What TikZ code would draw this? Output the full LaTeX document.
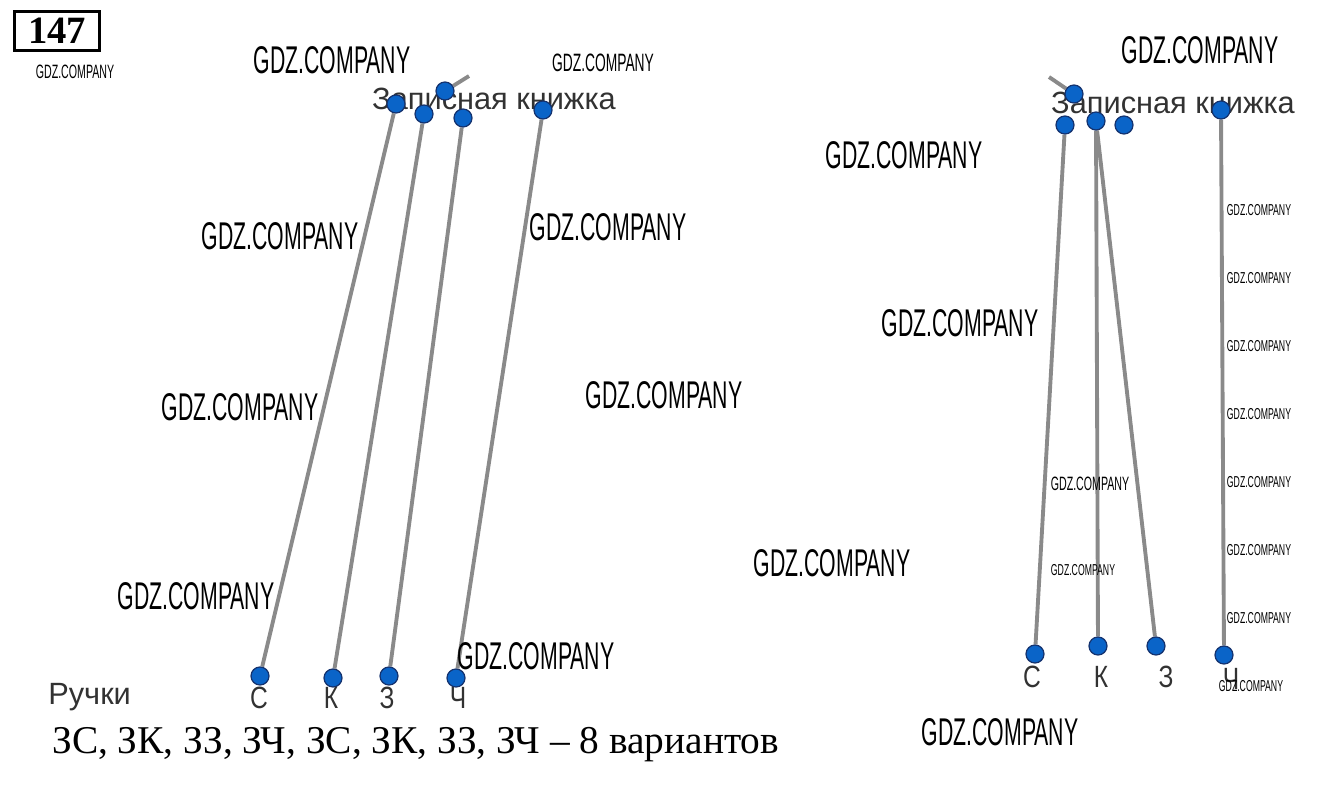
\documentclass[tikz,border=0pt]{standalone}
\usepackage{fontspec}
\setmainfont{Liberation Serif}
\newfontfamily\labelfont{Liberation Sans}
\newfontfamily\letterfont[FakeStretch=0.8]{Liberation Sans}
\newfontfamily\wmfont[FakeStretch=0.55]{Liberation Sans}
\usetikzlibrary{positioning, backgrounds}

\definecolor{dotblue}{RGB}{10,100,200}
\definecolor{dotrim}{RGB}{20,50,110}
\definecolor{linegray}{RGB}{138,138,138}
\definecolor{labelgray}{RGB}{50,50,50}

\begin{document}
\begin{tikzpicture}[
    x=0.02cm, y=-0.02cm,
    every node/.style={inner sep=0pt},
    dot/.style={
        circle, draw=dotrim, fill=dotblue, line width=0.7pt, minimum size=0.36cm
    },
    link/.style={draw=linegray, line width=2.2pt},
    letter/.style={font=\letterfont\fontsize{17.5}{17.5}\selectfont, text=labelgray},
    heading/.style={font=\labelfont\fontsize{17.5}{17.5}\selectfont, text=labelgray},
    wm/.style={font=\wmfont\fontsize{22}{22}\selectfont},
    wmmid/.style={font=\wmfont\fontsize{11}{11}\selectfont},
    wmsmall/.style={font=\wmfont\fontsize{9}{9}\selectfont},
]
\useasboundingbox (0,0) rectangle (1339,785);

% =====================================================================
%  Task number
% =====================================================================
\node[draw, line width=2pt, minimum width=1.7cm, minimum height=0.78cm,
      font=\bfseries\fontsize{22}{22}\selectfont] (num) at (57,31) {147};

% =====================================================================
%  LEFT:  every pen with its own notebook
% =====================================================================
\node[heading] (bookL) at (494,99) {Записная книжка};
\node[heading, anchor=west] (pens) at (48,697) {Ручки};

% Notebooks (top)
\node[dot] (nL0) at (445,91) {};
\node[dot] (nL1) at (396,104) {};
\node[dot] (nL2) at (424,114) {};
\node[dot] (nL3) at (463,118) {};
\node[dot] (nL4) at (543,110) {};
\coordinate (tailL) at (469,76);

% Pens (bottom)
\node[dot] (pL1) at (260,676) {};
\node[dot] (pL2) at (333,678) {};
\node[dot] (pL3) at (389,676) {};
\node[dot] (pL4) at (456,678) {};

\node[letter] (cL1) at (259,698) {С};
\node[letter] (cL2) at (331,698) {К};
\node[letter] (cL3) at (387,698) {З};
\node[letter] (cL4) at (458,698) {Ч};

\begin{scope}[on background layer]
    \draw[link] (nL0) -- (tailL);
    \draw[link] (nL1) -- (pL1);
    \draw[link] (nL2) -- (pL2);
    \draw[link] (nL3) -- (pL3);
    \draw[link] (nL4) -- (pL4);
\end{scope}

% =====================================================================
%  RIGHT:  one notebook with two pens
% =====================================================================
\node[heading] (bookR) at (1173,103) {Записная книжка};

% Notebooks (top)
\node[dot] (nR0) at (1074,94) {};
\node[dot] (nR1) at (1065,125) {};
\node[dot] (nR2) at (1096,121) {};
\node[dot] (nR3) at (1124,125) {};
\node[dot] (nR4) at (1221,110) {};
\coordinate (tailR) at (1049,77);

% Pens (bottom)
\node[dot] (pR1) at (1035,654) {};
\node[dot] (pR2) at (1098,646) {};
\node[dot] (pR3) at (1156,646) {};
\node[dot] (pR4) at (1224,655) {};

\node[letter] (cR1) at (1032,677) {С};
\node[letter] (cR2) at (1101,677) {К};
\node[letter] (cR3) at (1166,677) {З};
\node[letter] (cR4) at (1231,679) {Ч};

\begin{scope}[on background layer]
    \draw[link] (nR0) -- (tailR);
    \draw[link] (nR1) -- (pR1);
    \draw[link] (nR2) -- (pR2);
    \draw[link] (nR2) -- (pR3);
    \draw[link] (nR4) -- (pR4);
\end{scope}

% =====================================================================
%  Answer
% =====================================================================
\node[anchor=west, font=\fontsize{22.4}{22.4}\selectfont] (answer) at (52,745)
    {ЗС, ЗК, ЗЗ, ЗЧ, ЗС, ЗК, ЗЗ, ЗЧ -- 8 вариантов};

% =====================================================================
%  Watermarks
% =====================================================================
\node[wm] (w1)  at (332,60)  {GDZ.COMPANY};
\node[wm] (w2)  at (1200,50) {GDZ.COMPANY};
\node[wm] (w3)  at (904,155) {GDZ.COMPANY};
\node[wm] (w4)  at (280,236) {GDZ.COMPANY};
\node[wm] (w5)  at (608,227) {GDZ.COMPANY};
\node[wm] (w6)  at (960,323) {GDZ.COMPANY};
\node[wm] (w7)  at (240,407) {GDZ.COMPANY};
\node[wm] (w8)  at (664,395) {GDZ.COMPANY};
\node[wm] (w9)  at (832,563) {GDZ.COMPANY};
\node[wm] (w10) at (196,596) {GDZ.COMPANY};
\node[wm] (w11) at (536,656) {GDZ.COMPANY};
\node[wm] (w12) at (1000,732) {GDZ.COMPANY};
\node[wmmid] (w13) at (75,72) {GDZ.COMPANY};
\node[wmmid, font=\wmfont\fontsize{14.3}{14.3}\selectfont] (w14) at (603,63) {GDZ.COMPANY};
\node[wmmid] (w15) at (1090,484) {GDZ.COMPANY};
\node[wmsmall] (w16) at (1083,570) {GDZ.COMPANY};
\node[wmsmall] (w17) at (1251,686) {GDZ.COMPANY};
\foreach \y in {210,278,346,414,482,550,618}
    \node[wmsmall] at (1259,\y) {GDZ.COMPANY};

\end{tikzpicture}
\end{document}
